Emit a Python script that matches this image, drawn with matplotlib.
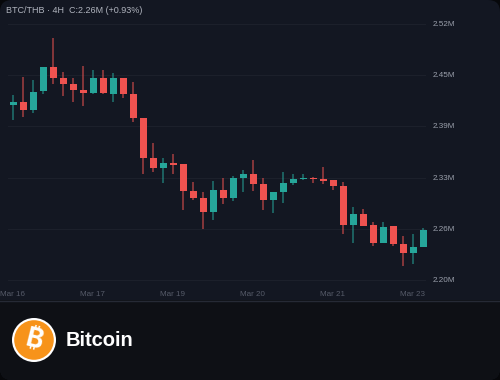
"""BTC/THB 4H candlestick card with the Bitcoin footer."""
import matplotlib
matplotlib.use("Agg")
import matplotlib.pyplot as plt
from matplotlib.patches import Circle, FancyBboxPatch, Rectangle

BG_PAGE = "#07080B"
BG_CHART = "#131722"
BG_FOOT = "#0E1015"
GRID = "#1C202B"
UP = "#26A69A"
DOWN = "#EF5350"

# prezzi in migliaia di THB
opens = [2419, 2422, 2413, 2436, 2466, 2452, 2445, 2438, 2434, 2453, 2433, 2452, 2433, 2402,
         2353, 2340, 2346, 2345, 2311, 2302, 2285, 2313, 2302, 2328, 2332, 2320, 2300, 2310,
         2321, 2326, 2328, 2326, 2325, 2317, 2269, 2282, 2269, 2246, 2267, 2245, 2234, 2241]
highs = [2431, 2454, 2450, 2466, 2503, 2460, 2452, 2467, 2463, 2463, 2459, 2452, 2447, 2402,
         2371, 2353, 2358, 2345, 2323, 2310, 2324, 2328, 2330, 2337, 2350, 2327, 2310, 2335,
         2332, 2333, 2329, 2341, 2325, 2322, 2291, 2289, 2272, 2272, 2267, 2255, 2257, 2265]
lows = [2400, 2404, 2409, 2432, 2445, 2430, 2422, 2417, 2432, 2432, 2422, 2427, 2397, 2332,
        2335, 2321, 2333, 2287, 2300, 2264, 2275, 2295, 2299, 2310, 2311, 2287, 2284, 2296,
        2319, 2325, 2321, 2320, 2312, 2257, 2246, 2268, 2242, 2246, 2243, 2217, 2220, 2241]
closes = [2422, 2413, 2435, 2466, 2452, 2445, 2438, 2434, 2453, 2434, 2452, 2433, 2402, 2353,
          2340, 2346, 2344, 2311, 2302, 2285, 2313, 2302, 2328, 2332, 2320, 2300, 2310, 2321,
          2326, 2328, 2326, 2324, 2318, 2269, 2282, 2268, 2246, 2266, 2245, 2234, 2241, 2262]

y_ticks = [2520, 2456, 2392, 2328, 2264, 2200]
y_labels = ["2.52M", "2.45M", "2.39M", "2.33M", "2.26M", "2.20M"]
x_ticks = [0, 8, 16, 24, 32, 40]
x_labels = ["Mar 16", "Mar 17", "Mar 19", "Mar 20", "Mar 21", "Mar 23"]

plt.rcParams["font.family"] = ["Liberation Sans", "DejaVu Sans"]

fig = plt.figure(figsize=(5, 3.8), dpi=100)
fig.patch.set_facecolor(BG_PAGE)

# sfondo a tutta figura, in pixel
bg = fig.add_axes([0, 0, 1, 1])
bg.set_xlim(0, 500)
bg.set_ylim(380, 0)
bg.axis("off")
card = FancyBboxPatch((0, 0), 500, 380, boxstyle="round,pad=0,rounding_size=12",
                      fc=BG_CHART, ec="none")
bg.add_patch(card)
foot = Rectangle((0, 300), 500, 80, fc=BG_FOOT, ec="none")
bg.add_patch(foot)
foot.set_clip_path(card)
bg.plot([0, 500], [300.5, 300.5], color="#262A35", lw=1)

# area del grafico: 10 px per candela, 1.25k per px
ax = fig.add_axes([0, 80 / 380, 1, 300 / 380], facecolor="none")
ax.set_xlim(-1.3, 48.7)
ax.set_ylim(2175, 2550)
ax.axis("off")

for t, lab in zip(y_ticks, y_labels):
    ax.plot([-0.5, 41.2], [t, t], color=GRID, lw=0.8, zorder=1)
    ax.text(42, t - 0.6, lab, color="#9A9FAB", fontsize=5.9, va="center", ha="left")
for t, lab in zip(x_ticks, x_labels):
    ax.text(t - 0.05, 2182.5, lab, color="#565B69", fontsize=5.8, va="center", ha="center")

for i, (o, h, l, c) in enumerate(zip(opens, highs, lows, closes)):
    col = UP if c >= o else DOWN
    ax.plot([i, i], [l, h], color=col, lw=1.1, alpha=0.65, zorder=2, solid_capstyle="butt")
    ax.bar(i, abs(c - o), bottom=min(o, c), width=0.7, color=col, zorder=3)

ax.text(-0.7, 2537.5, "BTC/THB · 4H  C:2.26M (+0.93%)", color="#B0B4BE", fontsize=6.5,
        va="center", ha="left")

# logo e nome
bg.add_patch(Circle((34, 340), 22, fc="white", ec="none"))
bg.add_patch(Circle((34, 340), 19.8, fc="#F7931A", ec="none"))
bg.text(34, 340, "\u20bf", color="white", fontsize=19, fontweight="bold", rotation=-14,
        ha="center", va="center",
        family=["Inter", "Roboto", "Noto Sans", "Open Sans", "Lato", "Liberation Sans", "DejaVu Sans"])
bg.text(66, 340, "Bitcoin", color="white", fontsize=14.5, fontweight="bold", va="center", ha="left")

fig.savefig("out.png", dpi=100, facecolor=BG_PAGE)
